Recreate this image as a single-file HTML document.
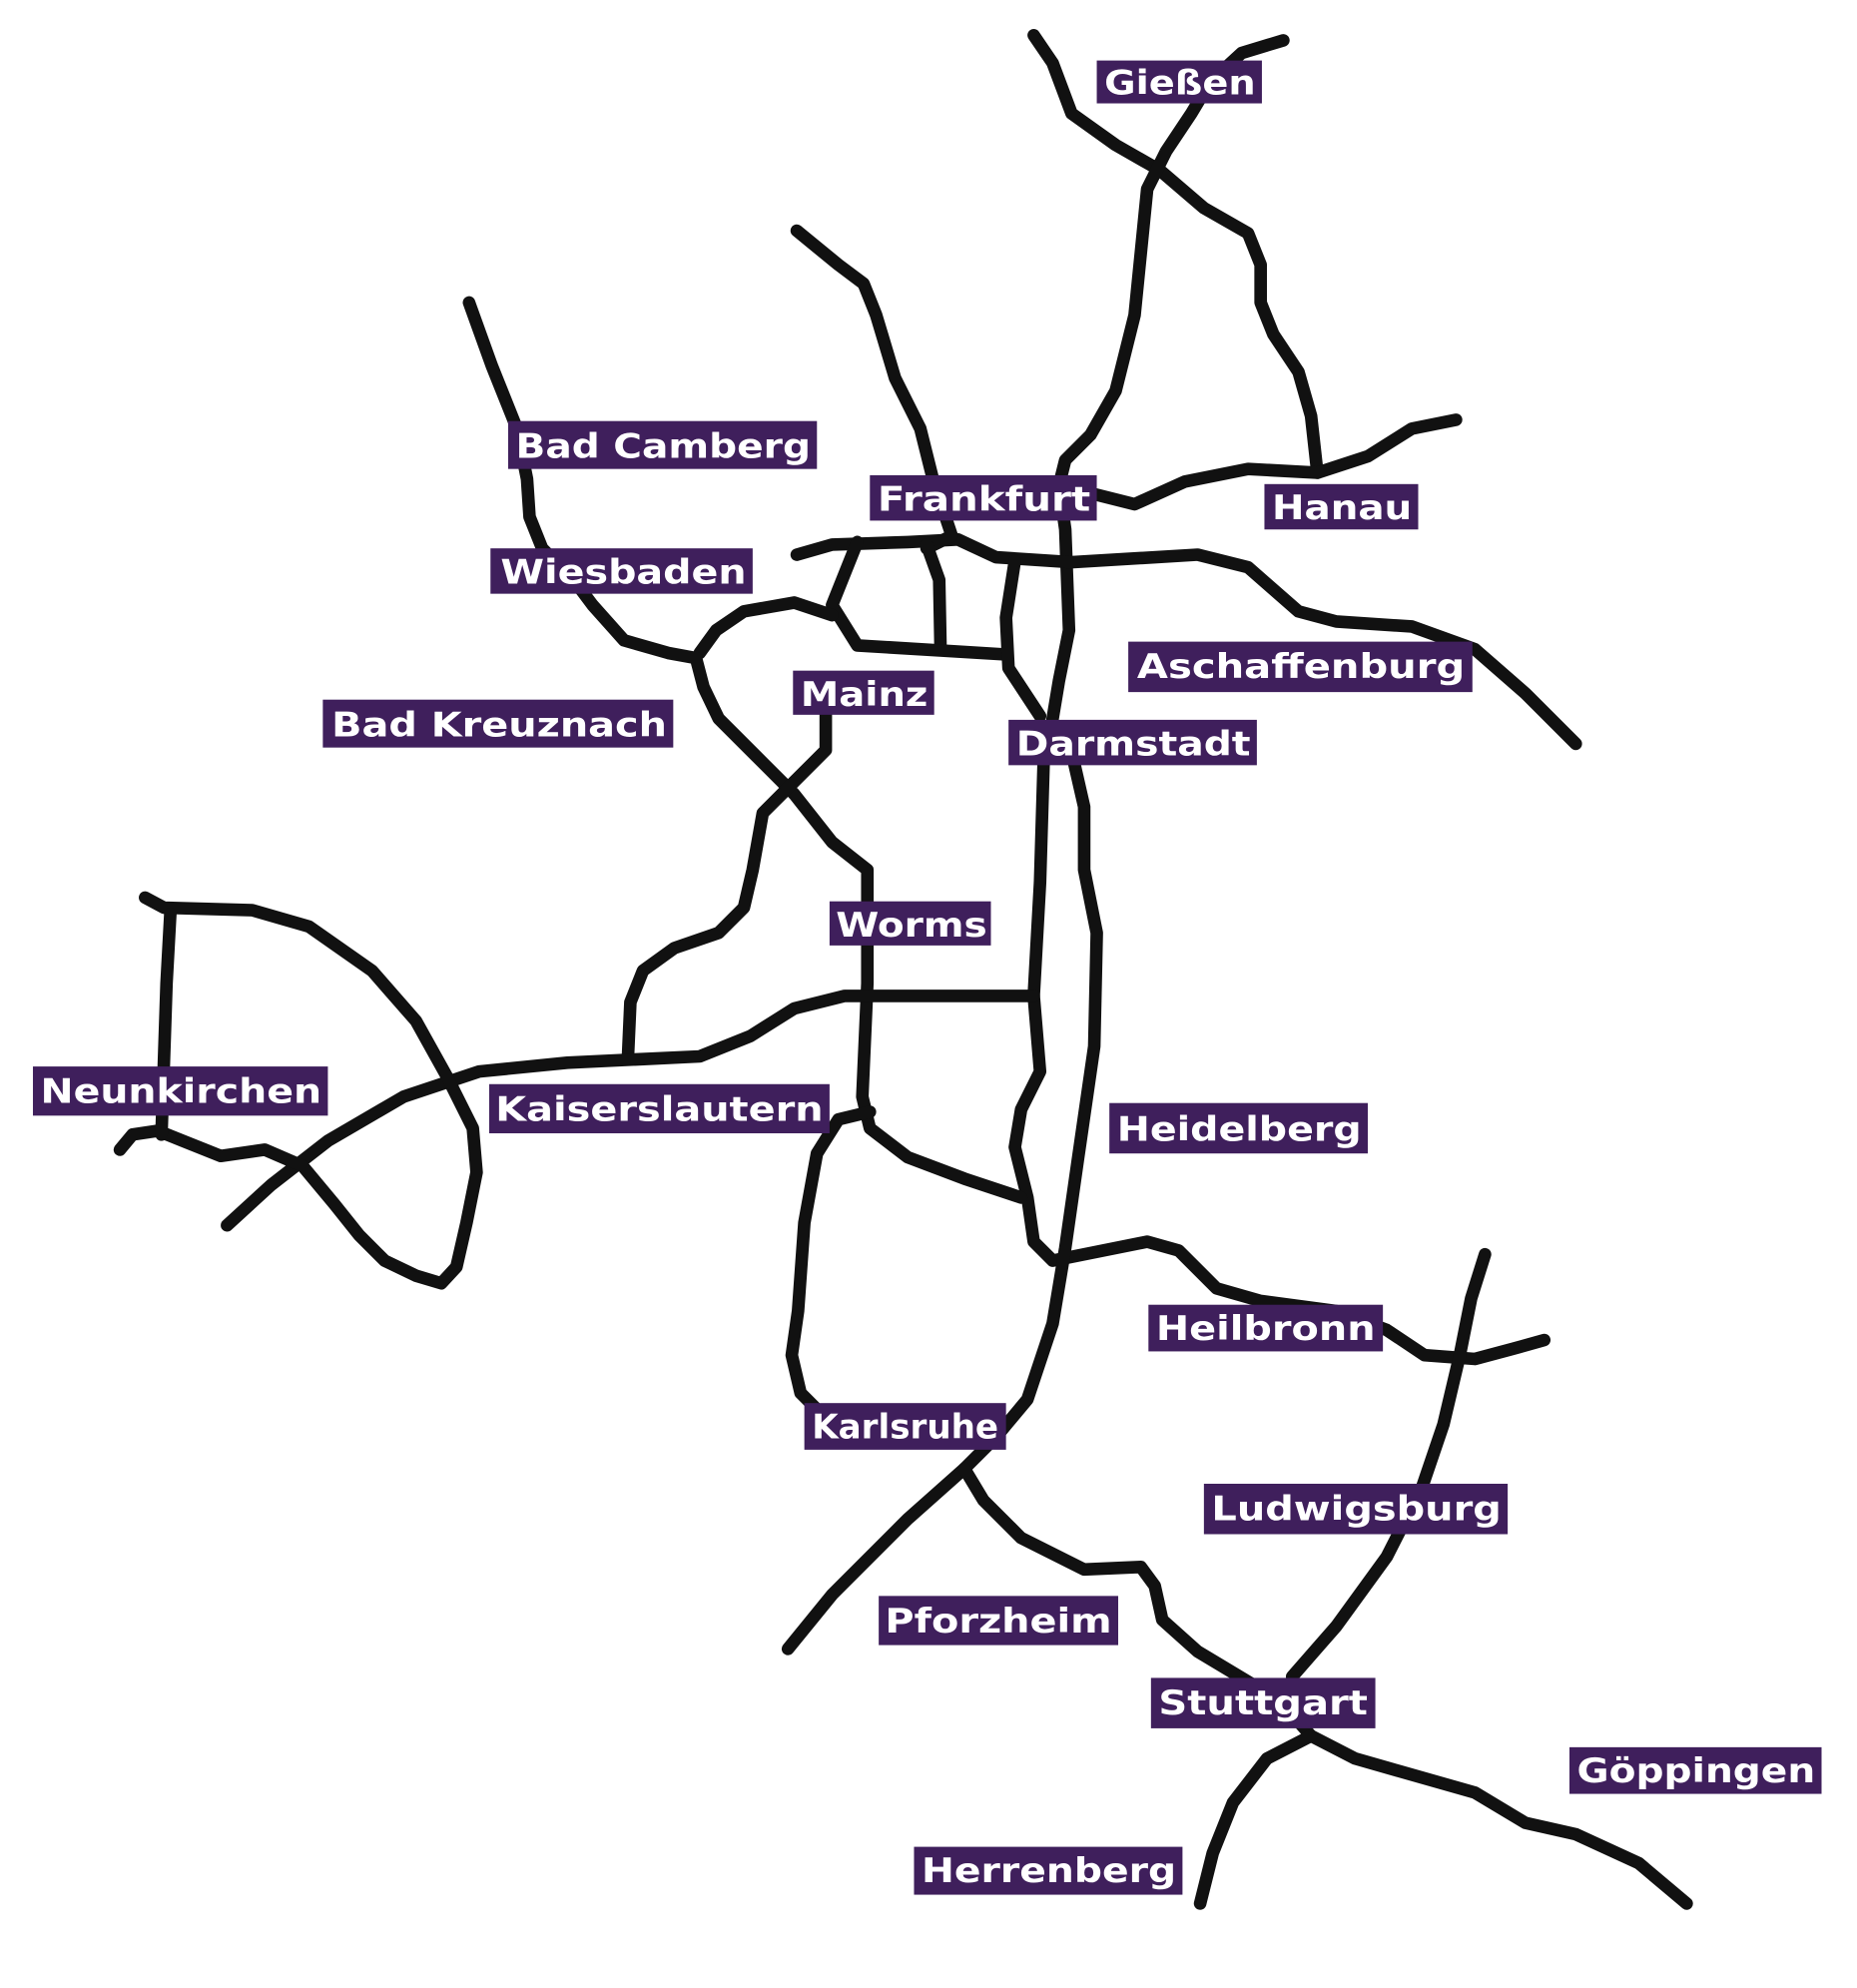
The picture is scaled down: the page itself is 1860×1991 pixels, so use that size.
<!DOCTYPE html>
<html><head><meta charset="utf-8"><style>
html,body{margin:0;padding:0;background:#fff;}
svg{display:block;}
text{font-family:"DejaVu Sans","Liberation Sans",sans-serif;font-weight:bold;fill:#fff;font-size:27px;}
</style></head><body>
<svg width="1860" height="1991" viewBox="0 0 1473 1577" xmlns="http://www.w3.org/2000/svg">
<g fill="none" stroke="#111" stroke-width="10" stroke-linejoin="round" stroke-linecap="round">
<polyline points="820,28 835,50 850,90 885,115 920,135 955,165 990,185 1000,210 1000,240 1010,265 1030,295 1040,330 1045,375"/>
<polyline points="1018,32 985,42 960,65 945,90 925,120 910,150 905,200 900,250 885,310 865,345 845,365 840,385 845,420 848,500 840,540 830,600"/>
<polyline points="828,600 825,700 820,790 825,850 810,880 805,910 815,950 820,985 835,1000 870,993 910,985 935,992 965,1022 1000,1032 1060,1040 1100,1055 1130,1075 1170,1078 1200,1070 1225,1063"/>
<polyline points="852,605 860,640 860,690 870,740 868,830 855,920 845,990 835,1050 815,1110 790,1140 765,1165 720,1205 660,1265 625,1308"/>
<polyline points="868,392 900,400 940,382 990,372 1045,375 1085,362 1120,340 1155,333"/>
<polyline points="632,440 660,432 720,430 760,428 790,442 850,446 950,440 990,450 1030,485 1060,493 1120,497 1170,515 1210,550 1250,590"/>
<polyline points="632,183 665,210 685,225 695,250 710,300 730,340 740,380 755,425 735,435"/>
<polyline points="735,432 745,460 746,512"/>
<polyline points="680,430 660,480 680,512 795,519"/>
<polyline points="660,488 630,478 590,485 568,500 555,518"/>
<polyline points="805,445 798,490 800,530 825,568"/>
<polyline points="372,240 390,290 410,340 418,380 420,410 430,435 455,460 470,480 495,508 530,518 552,522 558,545 570,570 600,600 630,630 660,668 688,690 688,780 684,870 690,895 720,918 765,935 810,950"/>
<polyline points="655,540 655,595 630,620 605,645 597,690 590,720 570,740 535,752 510,770 500,795 498,840"/>
<polyline points="820,790 670,790 630,800 595,822 555,838 450,843 380,850 320,870 260,905 215,940 180,972"/>
<polyline points="115,712 130,720 200,722 245,735 295,770 330,810 355,855 375,895 378,930 370,970 362,1005 350,1018 330,1012 305,1000 285,980 265,955 240,925 210,912 175,917 145,905 125,897 105,900 95,912"/>
<polyline points="135,725 132,780 130,840 128,900"/>
<polyline points="690,882 665,888 648,915 638,970 633,1040 628,1075 635,1105 660,1130"/>
<polyline points="765,1165 780,1190 810,1220 860,1245 905,1243 916,1258 922,1285 950,1310 1000,1340 1025,1360 1040,1377 1075,1395 1110,1405 1170,1422 1210,1446 1250,1455 1300,1478 1338,1510"/>
<polyline points="1178,995 1167,1030 1158,1075 1145,1130 1128,1180 1100,1235 1060,1290 1025,1330"/>
<polyline points="1040,1377 1005,1395 978,1430 962,1470 952,1510"/>
</g>
<g fill="#3f1f5c">
<rect x="870" y="48" width="131" height="34"/>
<rect x="403" y="334" width="245" height="38"/>
<rect x="690" y="377" width="180" height="36"/>
<rect x="1003" y="384" width="122" height="36"/>
<rect x="389" y="435" width="208" height="36"/>
<rect x="895" y="509" width="273" height="40"/>
<rect x="629" y="532" width="112" height="35"/>
<rect x="800" y="571" width="197" height="36"/>
<rect x="256" y="555" width="278" height="38"/>
<rect x="658" y="715" width="128" height="35"/>
<rect x="26" y="846" width="234" height="39"/>
<rect x="388" y="860" width="270" height="39"/>
<rect x="880" y="875" width="205" height="40"/>
<rect x="911" y="1035" width="186" height="37"/>
<rect x="638" y="1113" width="160" height="37"/>
<rect x="955" y="1177" width="241" height="40"/>
<rect x="697" y="1266" width="190" height="39"/>
<rect x="913" y="1331" width="178" height="40"/>
<rect x="1245" y="1386" width="200" height="37"/>
<rect x="725" y="1465" width="213" height="38"/>
</g>
<g>
<text x="876" y="75" textLength="120" lengthAdjust="spacingAndGlyphs">Gießen</text>
<text x="409" y="363" textLength="234" lengthAdjust="spacingAndGlyphs">Bad Camberg</text>
<text x="696" y="405" textLength="169" lengthAdjust="spacingAndGlyphs">Frankfurt</text>
<text x="1009" y="412" textLength="111" lengthAdjust="spacingAndGlyphs">Hanau</text>
<text x="397" y="463" textLength="195" lengthAdjust="spacingAndGlyphs">Wiesbaden</text>
<text x="902" y="538" textLength="260" lengthAdjust="spacingAndGlyphs">Aschaffenburg</text>
<text x="635" y="560" textLength="101" lengthAdjust="spacingAndGlyphs">Mainz</text>
<text x="806" y="599" textLength="186" lengthAdjust="spacingAndGlyphs">Darmstadt</text>
<text x="263" y="584" textLength="266" lengthAdjust="spacingAndGlyphs">Bad Kreuznach</text>
<text x="663" y="743" textLength="120" lengthAdjust="spacingAndGlyphs">Worms</text>
<text x="32" y="875" textLength="223" lengthAdjust="spacingAndGlyphs">Neunkirchen</text>
<text x="393" y="889" textLength="260" lengthAdjust="spacingAndGlyphs">Kaiserslautern</text>
<text x="886" y="905" textLength="194" lengthAdjust="spacingAndGlyphs">Heidelberg</text>
<text x="917" y="1063" textLength="174" lengthAdjust="spacingAndGlyphs">Heilbronn</text>
<text x="644" y="1141" textLength="148" lengthAdjust="spacingAndGlyphs">Karlsruhe</text>
<text x="961" y="1206" textLength="230" lengthAdjust="spacingAndGlyphs">Ludwigsburg</text>
<text x="702" y="1295" textLength="180" lengthAdjust="spacingAndGlyphs">Pforzheim</text>
<text x="919" y="1360" textLength="166" lengthAdjust="spacingAndGlyphs">Stuttgart</text>
<text x="1251" y="1414" textLength="189" lengthAdjust="spacingAndGlyphs">Göppingen</text>
<text x="731" y="1493" textLength="202" lengthAdjust="spacingAndGlyphs">Herrenberg</text>
</g>
</svg>
</body></html>
